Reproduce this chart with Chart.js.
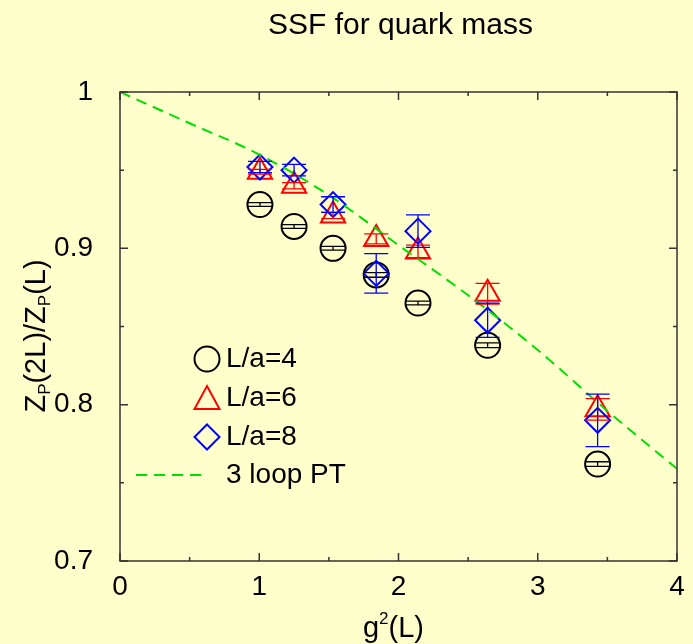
<!DOCTYPE html>
<html>
<head>
<meta charset="utf-8">
<script src="https://cdn.jsdelivr.net/npm/chart.js@4.4.1/dist/chart.umd.min.js"></script>
<style>
  html, body { margin: 0; padding: 0; background: #ffffcc; }
  #wrap { width: 693px; height: 644px; }
</style>
</head>
<body>
<div id="wrap"><canvas id="ssf" width="693" height="644"></canvas></div>
<script>
// g^2(L) values of the couplings
const gsq = [1.005, 1.25, 1.53, 1.84, 2.14, 2.64, 3.43];

// step scaling function values and errors
const la4 = [0.928, 0.914, 0.900, 0.883, 0.865, 0.838, 0.762];
const la4Err = [0.0012, 0.0012, 0.0012, 0.0015, 0.0012, 0.0015, 0.0015];
const la6 = [0.949, 0.940, 0.921, 0.906, 0.898, 0.871, 0.797];
const la6Err = [0.0015, 0.002, 0.002, 0.0032, 0.004, 0.0066, 0.0069];
const la8 = [0.952, 0.950, 0.928, 0.884, 0.911, 0.854, 0.790];
const la8Err = [0.0036, 0.0037, 0.005, 0.0126, 0.0104, 0.011, 0.0168];

// 3 loop perturbation theory curve
const ptX = [0, 0.5, 1, 1.5, 2, 2.5, 3, 3.5, 4];
const ptY = [1.0, 0.980, 0.960, 0.934, 0.902, 0.870, 0.835, 0.796, 0.759];

const FONT = '"Liberation Sans", Arial, sans-serif';

function pts(xs, ys) {
    return xs.map((x, i) => ({ x: x, y: ys[i] }));
}

const errSets = [
    { vals: la4, err: la4Err, color: '#000000' },
    { vals: la6, err: la6Err, color: '#ff0000' },
    { vals: la8, err: la8Err, color: '#0000ff' }
];

const bgPlugin = {
    id: 'bg',
    beforeDraw(chart) {
        const c = chart.ctx;
        c.save();
        c.fillStyle = '#ffffcc';
        c.fillRect(0, 0, chart.width, chart.height);
        c.restore();
    }
};

// error bars, frame, inward ticks, texts and legend
const decoPlugin = {
    id: 'deco',
    afterDatasetsDraw(chart) {
        const c = chart.ctx;
        const xs = chart.scales.x, ys = chart.scales.y;
        const a = chart.chartArea;
        c.save();

        // error bars
        errSets.forEach(s => {
            c.strokeStyle = s.color;
            c.lineWidth = 1.3;
            s.vals.forEach((v, i) => {
                const px = xs.getPixelForValue(gsq[i]);
                const top = ys.getPixelForValue(v + s.err[i]);
                const bot = ys.getPixelForValue(v - s.err[i]);
                c.beginPath();
                c.moveTo(px, top); c.lineTo(px, bot);
                c.moveTo(px - 12, top); c.lineTo(px + 12, top);
                c.moveTo(px - 12, bot); c.lineTo(px + 12, bot);
                c.stroke();
            });
        });

        // frame
        c.strokeStyle = '#333333';
        c.lineWidth = 1.5;
        c.strokeRect(a.left, a.top, a.right - a.left, a.bottom - a.top);

        // ticks, inward on all four sides
        c.beginPath();
        for (let v = 0; v <= 4.0001; v += 0.5) {
            const px = xs.getPixelForValue(v);
            const len = Math.abs(v - Math.round(v)) < 1e-6 ? 8 : 4;
            c.moveTo(px, a.bottom); c.lineTo(px, a.bottom - len);
            c.moveTo(px, a.top); c.lineTo(px, a.top + len);
        }
        for (let k = 0; k <= 6; k++) {
            const v = 0.7 + k * 0.05;
            const py = ys.getPixelForValue(v);
            const len = k % 2 === 0 ? 8 : 4;
            c.moveTo(a.left, py); c.lineTo(a.left + len, py);
            c.moveTo(a.right, py); c.lineTo(a.right - len, py);
        }
        c.stroke();

        // title
        c.fillStyle = '#000000';
        c.textAlign = 'center';
        c.textBaseline = 'alphabetic';
        c.font = '30px ' + FONT;
        c.fillText('SSF for quark mass', (a.left + a.right) / 2 + 2, 34);

        // x axis title g^2(L)
        const big = '29px ' + FONT, small = '17px ' + FONT;
        c.font = big;
        const wg = c.measureText('g').width, wl = c.measureText('(L)').width;
        c.font = small;
        const w2 = c.measureText('2').width;
        let x0 = (a.left + a.right) / 2 - 5 - (wg + w2 + wl) / 2;
        c.textAlign = 'left';
        c.font = big;
        c.fillText('g', x0, 637);
        c.font = small;
        c.fillText('2', x0 + wg, 624);
        c.font = big;
        c.fillText('(L)', x0 + wg + w2, 637);

        // y axis title Z_P(2L)/Z_P(L)
        const parts = [['Z', 0], ['P', 1], ['(2L)/', 0], ['Z', 0], ['P', 1], ['(L)', 0]];
        let total = 0;
        parts.forEach(p => {
            c.font = p[1] ? small : big;
            total += c.measureText(p[0]).width;
        });
        c.translate(45, 336);
        c.rotate(-Math.PI / 2);
        let lx = -total / 2;
        parts.forEach(p => {
            c.font = p[1] ? small : big;
            c.fillText(p[0], lx, p[1] ? 5 : 0);
            lx += c.measureText(p[0]).width;
        });
        c.setTransform(1, 0, 0, 1, 0, 0);

        // legend
        c.font = '28px ' + FONT;
        c.textBaseline = 'middle';
        c.lineWidth = 2;
        const lgx = 207, tx = 226;
        c.strokeStyle = '#000000';
        c.beginPath(); c.arc(lgx, 359, 12.5, 0, Math.PI * 2); c.stroke();
        c.fillText('L/a=4', tx, 359);
        c.strokeStyle = '#ff0000';
        c.beginPath();
        c.moveTo(lgx, 386); c.lineTo(lgx + 12.5, 409); c.lineTo(lgx - 12.5, 409); c.closePath();
        c.stroke();
        c.fillText('L/a=6', tx, 398);
        c.strokeStyle = '#0000ff';
        c.beginPath();
        c.moveTo(lgx, 424.5); c.lineTo(lgx + 12.5, 437); c.lineTo(lgx, 449.5); c.lineTo(lgx - 12.5, 437); c.closePath();
        c.stroke();
        c.fillText('L/a=8', tx, 437);
        c.strokeStyle = '#00e000';
        c.setLineDash([11, 7]);
        c.beginPath(); c.moveTo(136, 475); c.lineTo(208, 475); c.stroke();
        c.setLineDash([]);
        c.fillText('3 loop PT', tx, 475);

        c.restore();
    }
};

const ctx = document.getElementById('ssf').getContext('2d');

new Chart(ctx, {
    type: 'scatter',
    data: {
        datasets: [
            {
                label: 'L/a=8',
                data: pts(gsq, la8),
                pointStyle: 'rectRot',
                pointRadius: 12.5,
                pointHoverRadius: 12.5,
                borderColor: '#0000ff',
                backgroundColor: 'rgba(0,0,0,0)',
                pointBorderWidth: 2,
                order: 1
            },
            {
                label: 'L/a=6',
                data: pts(gsq, la6),
                pointStyle: 'triangle',
                pointRadius: 14,
                pointHoverRadius: 14,
                borderColor: '#ff0000',
                backgroundColor: 'rgba(0,0,0,0)',
                pointBorderWidth: 2,
                order: 2
            },
            {
                label: 'L/a=4',
                data: pts(gsq, la4),
                pointStyle: 'circle',
                pointRadius: 12.5,
                pointHoverRadius: 12.5,
                borderColor: '#000000',
                backgroundColor: 'rgba(0,0,0,0)',
                pointBorderWidth: 2,
                order: 3
            },
            {
                label: '3 loop PT',
                type: 'line',
                data: pts(ptX, ptY),
                borderColor: '#00e000',
                borderWidth: 2,
                borderDash: [11, 7],
                pointRadius: 0,
                fill: false,
                cubicInterpolationMode: 'monotone',
                order: 0
            }
        ]
    },
    options: {
        responsive: false,
        animation: false,
        layout: { padding: { top: 92, right: 9, left: 0, bottom: 0 } },
        plugins: {
            legend: { display: false },
            tooltip: { enabled: false }
        },
        scales: {
            x: {
                type: 'linear',
                min: 0,
                max: 4,
                ticks: {
                    stepSize: 1,
                    color: '#000000',
                    font: { family: FONT, size: 28 },
                    padding: 1,
                    maxRotation: 0
                },
                grid: { display: false },
                border: { display: false },
                afterFit(scale) { scale.height = 83; }
            },
            y: {
                min: 0.7,
                max: 1.0,
                ticks: {
                    stepSize: 0.05,
                    color: '#000000',
                    font: { family: FONT, size: 28 },
                    padding: 19,
                    callback: v => Math.abs(v * 10 - Math.round(v * 10)) < 1e-6 ? String(Math.round(v * 10) / 10) : ''
                },
                grid: { display: false },
                border: { display: false },
                afterFit(scale) { scale.width = 120; }
            }
        }
    },
    plugins: [bgPlugin, decoPlugin]
});
</script>
</body>
</html>
